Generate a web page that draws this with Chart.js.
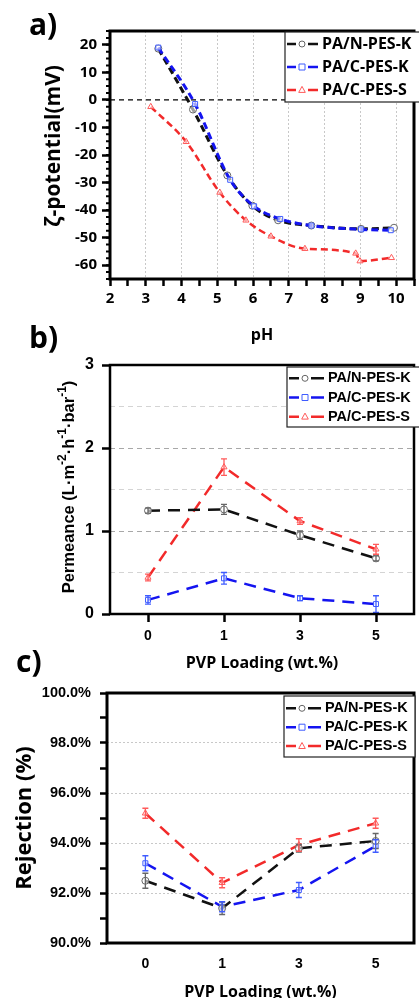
<!DOCTYPE html>
<html>
<head>
<meta charset="utf-8">
<script src="https://cdn.jsdelivr.net/npm/chart.js@4.4.1/dist/chart.umd.min.js"></script>
<style>
html, body { margin: 0; padding: 0; background: #fff; overflow: hidden; }
body { width: 419px; height: 998px; position: relative; }
canvas { position: absolute; left: 0; }
.tag { position: absolute; font: bold 30px "Open Sans", sans-serif; line-height: 30px; color: #000; }
</style>
</head>
<body>
<canvas id="chartA" width="419" height="345" style="top:0px"></canvas>
<canvas id="chartB" width="419" height="330" style="top:345px"></canvas>
<canvas id="chartC" width="419" height="330" style="top:675px"></canvas>
<div class="tag" style="left:29px;top:9px">a)</div>
<div class="tag" style="left:29px;top:322px">b)</div>
<div class="tag" style="left:16px;top:646px">c)</div>
<script>
// series names
const names = ['PA/N-PES-K', 'PA/C-PES-K', 'PA/C-PES-S'];

// a) zeta potential vs pH
const phNK = [3.35, 4.32, 5.28, 5.98, 6.70, 7.63, 9.02, 9.94];
const zetaNK = [18.6, -3.5, -27.4, -38.4, -43.7, -45.6, -46.8, -46.4];
const phCK = [3.35, 4.38, 5.36, 6.03, 6.76, 7.63, 9.02, 9.85];
const zetaCK = [19.0, -1.5, -29.0, -38.6, -43.2, -45.6, -47.0, -47.3];
const phCS = [3.14, 4.13, 5.07, 5.80, 6.50, 7.45, 8.87, 8.99, 9.87];
const zetaCS = [-2.5, -15.2, -33.6, -43.7, -49.5, -54.0, -55.7, -58.5, -57.3];
const zeroLevel = 0;

// b) and c) share the PVP loading categories
const pvpLoading = ['0', '1', '3', '5'];

const permNK = [1.245, 1.26, 0.95, 0.67];
const permNKErr = [0.03, 0.06, 0.05, 0.03];
const permCK = [0.17, 0.43, 0.19, 0.12];
const permCKErr = [0.05, 0.07, 0.03, 0.10];
const permCS = [0.44, 1.77, 1.12, 0.78];
const permCSErr = [0.04, 0.10, 0.04, 0.06];

const rejNK = [92.49, 91.39, 93.79, 94.08];
const rejNKErr = [0.30, 0.25, 0.15, 0.30];
const rejCK = [93.19, 91.45, 92.12, 93.88];
const rejCKErr = [0.30, 0.20, 0.30, 0.25];
const rejCS = [95.19, 92.41, 93.92, 94.79];
const rejCSErr = [0.20, 0.20, 0.25, 0.20];

const lineCol = ['#111111', '#1414f0', '#f22a2a'];
const markCol = ['#666666', '#3f5cff', '#ff5a5a'];
const markStyle = ['circle', 'rect', 'triangle'];

const openSans = '"Open Sans", sans-serif';
const arial = '"Liberation Sans", Arial, sans-serif';

function pts(xs, ys) {
  return xs.map((x, i) => ({ x: x, y: ys[i] }));
}

function drawMarker(ctx, style, x, y, r) {
  ctx.beginPath();
  if (style === 'circle') {
    ctx.arc(x, y, r, 0, Math.PI * 2);
  } else if (style === 'rect') {
    ctx.rect(x - r, y - r, r * 2, r * 2);
  } else {
    ctx.moveTo(x, y - r * 1.2);
    ctx.lineTo(x + r * 1.1, y + r * 0.8);
    ctx.lineTo(x - r * 1.1, y + r * 0.8);
    ctx.closePath();
  }
  ctx.fill();
  ctx.stroke();
}

// box round the plot area
const frame = {
  id: 'frame',
  afterDatasetsDraw(chart, args, opts) {
    const { ctx, chartArea: a } = chart;
    ctx.save();
    ctx.lineWidth = opts.width || 2.5;
    ctx.strokeStyle = '#000';
    ctx.strokeRect(a.left, a.top, a.right - a.left, a.bottom - a.top);
    ctx.restore();
  }
};

// short minor ticks on the left axis
const minorTicks = {
  id: 'minorTicks',
  afterDraw(chart, args, o) {
    if (!o.step) return;
    const { ctx, chartArea: a } = chart;
    const ys = chart.scales.y;
    ctx.save();
    ctx.strokeStyle = '#000';
    ctx.lineWidth = 2;
    ctx.beginPath();
    for (let v = ys.min; v <= ys.max + 1e-9; v += o.step) {
      const y = ys.getPixelForValue(v);
      ctx.moveTo(a.left, y);
      ctx.lineTo(a.left - o.len, y);
    }
    ctx.stroke();
    ctx.restore();
  }
};

// vertical axis title drawn in pieces, so exponents can be raised
const sideTitle = {
  id: 'sideTitle',
  afterDraw(chart, args, o) {
    if (!o.parts) return;
    const ctx = chart.ctx;
    ctx.save();
    ctx.translate(o.x, o.y);
    ctx.rotate(-Math.PI / 2);
    ctx.fillStyle = '#000';
    ctx.textBaseline = 'middle';
    let total = 0;
    o.parts.forEach((p) => {
      ctx.font = 'bold ' + p.size + 'px ' + o.family;
      p.w = ctx.measureText(p.text).width;
      total += p.w;
    });
    let x = -total / 2;
    o.parts.forEach((p) => {
      ctx.font = 'bold ' + p.size + 'px ' + o.family;
      ctx.fillText(p.text, x, -(p.raise || 0));
      x += p.w;
    });
    ctx.restore();
  }
};

// vertical error bars from ds.errors
const errorBars = {
  id: 'errorBars',
  afterDatasetsDraw(chart) {
    const ctx = chart.ctx;
    const ys = chart.scales.y;
    chart.data.datasets.forEach((ds, i) => {
      if (!ds.errors) return;
      const meta = chart.getDatasetMeta(i);
      ctx.save();
      ctx.strokeStyle = ds.markColor;
      ctx.lineWidth = 1.3;
      meta.data.forEach((pt, j) => {
        const v = ds.data[j];
        const e = ds.errors[j];
        const y1 = ys.getPixelForValue(v + e);
        const y2 = ys.getPixelForValue(v - e);
        ctx.beginPath();
        ctx.moveTo(pt.x, y1); ctx.lineTo(pt.x, y2);
        ctx.moveTo(pt.x - 3, y1); ctx.lineTo(pt.x + 3, y1);
        ctx.moveTo(pt.x - 3, y2); ctx.lineTo(pt.x + 3, y2);
        ctx.stroke();
      });
      ctx.restore();
    });
  }
};

// dashed reference line at zeta = 0
const zeroLine = {
  id: 'zeroLine',
  beforeDatasetsDraw(chart) {
    const { ctx, chartArea: a } = chart;
    const y = chart.scales.y.getPixelForValue(zeroLevel);
    ctx.save();
    ctx.strokeStyle = '#000';
    ctx.lineWidth = 1.3;
    ctx.setLineDash([5, 4]);
    ctx.beginPath();
    ctx.moveTo(a.left, y);
    ctx.lineTo(a.right, y);
    ctx.stroke();
    ctx.restore();
  }
};

// legend in a white box inside the plot
const boxLegend = {
  id: 'boxLegend',
  afterDraw(chart, args, o) {
    const ctx = chart.ctx;
    ctx.save();
    ctx.fillStyle = '#fff';
    ctx.fillRect(o.x, o.y, o.w, o.h);
    ctx.lineWidth = 1.2;
    ctx.strokeStyle = '#222';
    ctx.strokeRect(o.x, o.y, o.w, o.h);
    ctx.font = o.font;
    ctx.textBaseline = 'middle';
    chart.data.datasets.forEach((ds, i) => {
      const cy = o.y + o.rowTop + i * o.row;
      const mx = o.x + o.markX;
      ctx.strokeStyle = ds.borderColor;
      ctx.lineWidth = 2.5;
      ctx.beginPath();
      ctx.moveTo(o.x + 2, cy); ctx.lineTo(mx - 6, cy);
      ctx.moveTo(mx + 6, cy); ctx.lineTo(o.textX - 4, cy);
      ctx.stroke();
      ctx.fillStyle = '#fff';
      ctx.strokeStyle = ds.markColor;
      ctx.lineWidth = 1;
      drawMarker(ctx, ds.pointStyle, mx, cy, 3);
      ctx.fillStyle = '#000';
      ctx.fillText(ds.label, o.textX, cy);
    });
    ctx.restore();
  }
};

function series(i, data, dash, width, extra) {
  return Object.assign({
    label: names[i],
    data: data,
    borderColor: lineCol[i],
    markColor: markCol[i],
    borderWidth: width,
    borderDash: dash,
    pointStyle: markStyle[i],
    pointRadius: 3.5,
    pointBorderWidth: 1,
    pointBackgroundColor: 'rgba(255,255,255,0.6)',
    pointBorderColor: markCol[i],
    fill: false
  }, extra || {});
}

Chart.defaults.color = '#000';

// ---------- a) ----------
new Chart(document.getElementById('chartA'), {
  type: 'line',
  data: {
    datasets: [
      series(0, pts(phNK, zetaNK), [7, 4], 3, { cubicInterpolationMode: 'monotone', order: 1 }),
      series(1, pts(phCK, zetaCK), [7, 4], 3, { cubicInterpolationMode: 'monotone', order: 0 }),
      series(2, pts(phCS, zetaCS), [7, 4], 2.5, { cubicInterpolationMode: 'monotone', order: 2 })
    ]
  },
  options: {
    responsive: false,
    animation: false,
    devicePixelRatio: 1,
    layout: { padding: { top: 31, right: 1, left: 0, bottom: 0 } },
    plugins: {
      legend: { display: false },
      tooltip: { enabled: false },
      frame: { width: 3 },
      minorTicks: { step: 2.5, len: 4 },
      sideTitle: { x: 54, y: 146, family: openSans, parts: [{ text: 'ζ-potential(mV)', size: 21 }] },
      boxLegend: { x: 285, y: 32, w: 136, h: 70, rowTop: 12, row: 23, markX: 17, textX: 322, font: 'bold 16px ' + openSans }
    },
    scales: {
      x: {
        type: 'linear', min: 2, max: 10.5,
        afterFit: (s) => { s.height = 66; },
        border: { display: false, dash: [2, 2] },
        grid: {
          color: (c) => (c.tick && Number.isInteger(c.tick.value) && c.tick.value > 2) ? '#c8c8c8' : 'rgba(0,0,0,0)',
          tickColor: '#000', tickWidth: 2.5, tickLength: 7
        },
        ticks: {
          stepSize: 0.5, autoSkip: false, maxRotation: 0, padding: 4,
          font: { family: openSans, size: 15, weight: 'bold' },
          callback: (v) => Number.isInteger(v) && v <= 10 ? v : ''
        },
        title: { display: true, text: 'pH', font: { family: openSans, size: 16, weight: 'bold' }, padding: { top: 0, bottom: 0 } }
      },
      y: {
        min: -65, max: 25,
        afterFit: (s) => { s.width = 110; },
        border: { display: false },
        grid: {
          drawOnChartArea: false,
          tickColor: (c) => (c.tick && c.tick.value % 10 === 0) ? '#000' : 'rgba(0,0,0,0)',
          tickWidth: 2.5, tickLength: 8
        },
        ticks: {
          stepSize: 5, autoSkip: false, padding: 5,
          font: { family: openSans, size: 15, weight: 'bold' },
          callback: (v) => v % 10 === 0 ? v : ''
        }
      }
    }
  },
  plugins: [zeroLine, frame, minorTicks, sideTitle, boxLegend]
});

// ---------- b) ----------
new Chart(document.getElementById('chartB'), {
  type: 'line',
  data: {
    labels: pvpLoading,
    datasets: [
      series(0, permNK, [12, 8], 2.5, { errors: permNKErr }),
      series(1, permCK, [12, 8], 2.5, { errors: permCKErr }),
      series(2, permCS, [12, 8], 2.5, { errors: permCSErr })
    ]
  },
  options: {
    responsive: false,
    animation: false,
    devicePixelRatio: 1,
    layout: { padding: { top: 20, right: 1.5, left: 0, bottom: 0 } },
    plugins: {
      legend: { display: false },
      tooltip: { enabled: false },
      frame: { width: 2.5 },
      sideTitle: {
        x: 69, y: 142, family: arial,
        parts: [
          { text: 'Permeance (L·m', size: 16.5 },
          { text: '-2', size: 12, raise: 6 },
          { text: '·h', size: 16.5 },
          { text: '-1', size: 12, raise: 6 },
          { text: '·bar', size: 16.5 },
          { text: '-1', size: 12, raise: 6 },
          { text: ')', size: 16.5 }
        ]
      },
      boxLegend: { x: 287, y: 22, w: 134, h: 60, rowTop: 11.3, row: 19.2, markX: 18, textX: 328, font: 'bold 14.5px ' + arial }
    },
    scales: {
      x: {
        type: 'category', offset: true,
        afterFit: (s) => { s.height = 61; },
        border: { display: false },
        grid: { drawOnChartArea: false, tickColor: '#000', tickWidth: 2.5, tickLength: 8 },
        ticks: { padding: 6, maxRotation: 0, font: { family: arial, size: 14, weight: 'bold' } },
        title: { display: true, text: 'PVP Loading (wt.%)', font: { family: openSans, size: 16, weight: 'bold' }, padding: { top: 0, bottom: 2 } }
      },
      y: {
        min: 0, max: 3,
        afterFit: (s) => { s.width = 110; },
        border: { display: false, dash: [5, 4] },
        grid: {
          color: (c) => {
            const v = c.tick ? c.tick.value : 0;
            if (v <= 0 || v >= 3) return 'rgba(0,0,0,0)';
            return Number.isInteger(v) ? '#a8a8a8' : '#d4d4d4';
          },
          tickColor: (c) => (c.tick && Number.isInteger(c.tick.value)) ? '#000' : 'rgba(0,0,0,0)',
          tickWidth: 2.5, tickLength: 8
        },
        ticks: {
          stepSize: 0.5, autoSkip: false, padding: 8,
          font: { family: arial, size: 16, weight: 'bold' },
          callback: (v) => Number.isInteger(v) ? v : ''
        }
      }
    }
  },
  plugins: [errorBars, frame, sideTitle, boxLegend]
});

// ---------- c) ----------
new Chart(document.getElementById('chartC'), {
  type: 'line',
  data: {
    labels: pvpLoading,
    datasets: [
      series(0, rejNK, [12, 8], 2.5, { errors: rejNKErr }),
      series(1, rejCK, [12, 8], 2.5, { errors: rejCKErr }),
      series(2, rejCS, [12, 8], 2.5, { errors: rejCSErr })
    ]
  },
  options: {
    responsive: false,
    animation: false,
    devicePixelRatio: 1,
    layout: { padding: { top: 18, right: 2, left: 0, bottom: 0 } },
    plugins: {
      legend: { display: false },
      tooltip: { enabled: false },
      frame: { width: 3 },
      boxLegend: { x: 284, y: 21, w: 131, h: 61, rowTop: 12.3, row: 18.9, markX: 18, textX: 325, font: 'bold 14.5px ' + arial }
    },
    scales: {
      x: {
        type: 'category', offset: true,
        afterFit: (s) => { s.height = 62; },
        border: { display: false },
        grid: { drawOnChartArea: false, drawTicks: false },
        ticks: { padding: 13, maxRotation: 0, font: { family: arial, size: 14, weight: 'bold' } },
        title: { display: true, text: 'PVP Loading (wt.%)', font: { family: openSans, size: 16, weight: 'bold' }, padding: { top: 0, bottom: 3 } }
      },
      y: {
        min: 90, max: 100,
        afterFit: (s) => { s.width = 107; },
        border: { display: false, dash: [2, 2] },
        grid: {
          color: (c) => {
            const v = c.tick ? c.tick.value : 0;
            return (v > 90 && v < 100 && v % 2 === 0) ? '#c8c8c8' : 'rgba(0,0,0,0)';
          },
          tickColor: '#000', tickWidth: 2.5, tickLength: 7
        },
        ticks: {
          stepSize: 1, autoSkip: false, padding: 9,
          font: { family: arial, size: 14.5, weight: 'bold' },
          callback: (v) => v % 2 === 0 ? v.toFixed(1) + '%' : ''
        },
        title: { display: true, text: 'Rejection (%)', font: { family: openSans, size: 22, weight: 'bold' }, padding: { top: 12, bottom: 0 } }
      }
    }
  },
  plugins: [errorBars, frame, boxLegend]
});
</script>
</body>
</html>
